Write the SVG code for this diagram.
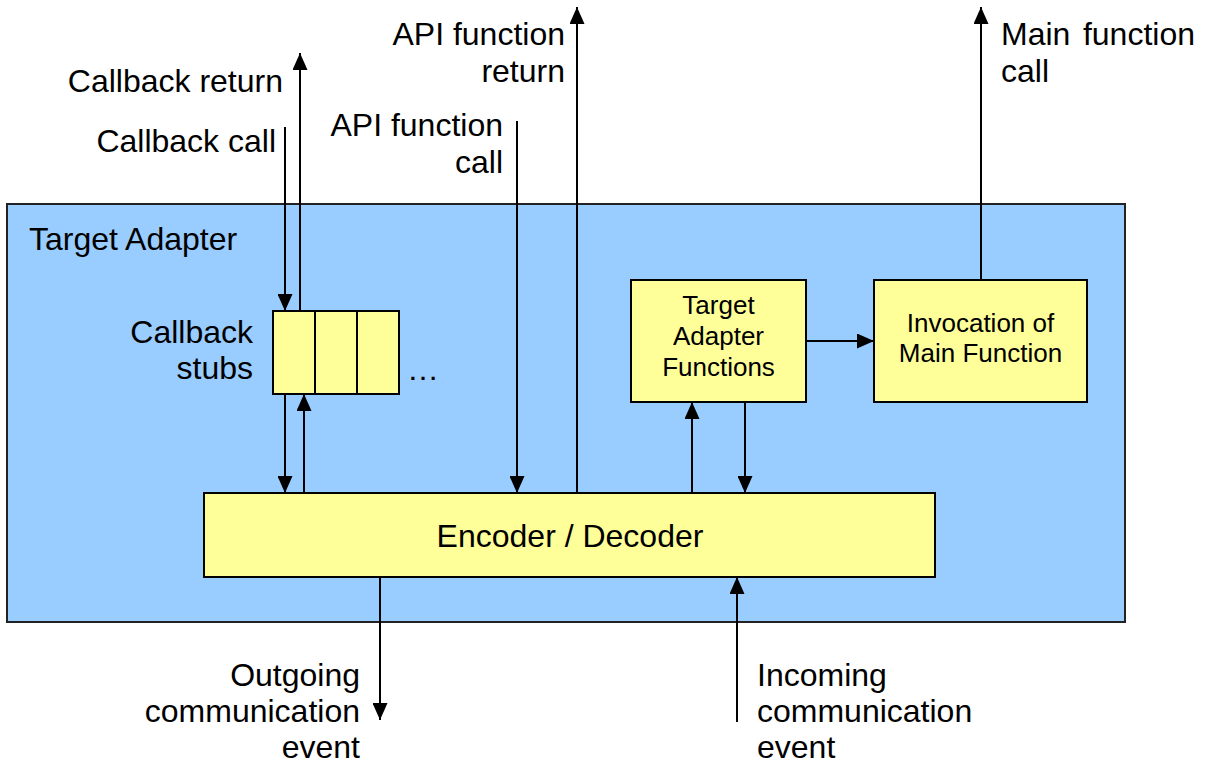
<svg xmlns="http://www.w3.org/2000/svg" width="1210" height="763" viewBox="0 0 1210 763">
  <style>
    text { font-family: "Liberation Sans", Arial, sans-serif; fill: #000; }
    .big { font-size: 32px; }
    .small { font-size: 26px; }
    .box { fill: #FFFF99; stroke: #000; stroke-width: 2; }
    .container { fill: #99CCFF; stroke: #222; stroke-width: 2; }
    .conn { stroke: #000; stroke-width: 2; fill: none; marker-end: url(#arrow); }
  </style>
  <defs>
    <marker id="arrow" markerUnits="userSpaceOnUse" markerWidth="17" markerHeight="15" refX="17" refY="7.5" orient="auto">
      <path d="M0,0 L17,7.5 L0,15 z" fill="#000"/>
    </marker>
  </defs>
  <rect width="1210" height="763" fill="#fff"/>

  <g id="target-adapter">
    <rect class="container" x="7" y="204" width="1118" height="418"/>
    <text class="big" x="29" y="250">Target Adapter</text>
  </g>

  <g id="connectors">
    <line class="conn" x1="285" y1="127" x2="285" y2="311"/>
    <line class="conn" x1="300" y1="311" x2="300" y2="53"/>
    <line class="conn" x1="285" y1="394" x2="285" y2="493"/>
    <line class="conn" x1="304" y1="493" x2="304" y2="394"/>
    <line class="conn" x1="517" y1="121" x2="517" y2="493"/>
    <line class="conn" x1="577" y1="493" x2="577" y2="7"/>
    <line class="conn" x1="692" y1="493" x2="692" y2="402"/>
    <line class="conn" x1="745" y1="402" x2="745" y2="493"/>
    <line class="conn" x1="806" y1="341" x2="874" y2="341"/>
    <line class="conn" x1="981" y1="280" x2="981" y2="7"/>
    <line class="conn" x1="380" y1="577" x2="380" y2="720"/>
    <line class="conn" x1="737" y1="722" x2="737" y2="577"/>
  </g>

  <g id="callback-stubs">
    <rect class="box" x="273" y="311" width="42" height="83"/>
    <rect class="box" x="315" y="311" width="42" height="83"/>
    <rect class="box" x="357" y="311" width="42" height="83"/>
    <text class="big" x="253" y="343" text-anchor="end">Callback</text>
    <text class="big" x="253" y="379" text-anchor="end">stubs</text>
    <text class="big" x="407" y="380">…</text>
  </g>

  <g id="target-adapter-functions">
    <rect class="box" x="631" y="280" width="175" height="122"/>
    <text class="small" x="718.5" y="314" text-anchor="middle">Target</text>
    <text class="small" x="718.5" y="345" text-anchor="middle">Adapter</text>
    <text class="small" x="718.5" y="376" text-anchor="middle">Functions</text>
  </g>

  <g id="invocation-main">
    <rect class="box" x="874" y="280" width="213" height="122"/>
    <text class="small" x="980.5" y="332" text-anchor="middle">Invocation of</text>
    <text class="small" x="980.5" y="362" text-anchor="middle">Main Function</text>
  </g>

  <g id="encoder-decoder">
    <rect class="box" x="204" y="493" width="731" height="84"/>
    <text class="big" x="570" y="547" text-anchor="middle">Encoder / Decoder</text>
  </g>

  <g id="labels">
    <text class="big" x="283" y="92" text-anchor="end">Callback return</text>
    <text class="big" x="276" y="152" text-anchor="end">Callback call</text>
    <text class="big" x="565" y="45" text-anchor="end">API function</text>
    <text class="big" x="565" y="82" text-anchor="end">return</text>
    <text class="big" x="503" y="136" text-anchor="end">API function</text>
    <text class="big" x="503" y="173" text-anchor="end">call</text>
    <text class="big" x="1001" y="45">Main<tspan x="1195" text-anchor="end">function</tspan></text>
    <text class="big" x="1001" y="82">call</text>
    <text class="big" x="360" y="686" text-anchor="end">Outgoing</text>
    <text class="big" x="360" y="722" text-anchor="end">communication</text>
    <text class="big" x="360" y="758" text-anchor="end">event</text>
    <text class="big" x="757" y="686">Incoming</text>
    <text class="big" x="757" y="722">communication</text>
    <text class="big" x="757" y="758">event</text>
  </g>
</svg>
